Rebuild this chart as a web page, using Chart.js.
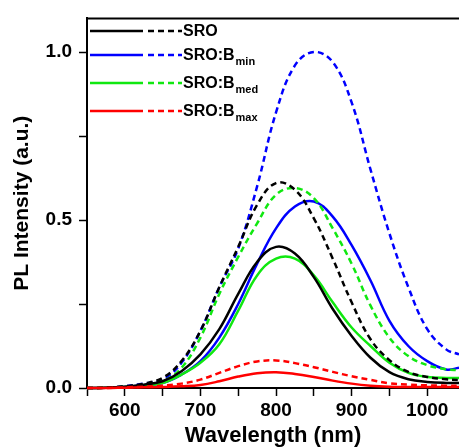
<!DOCTYPE HTML><html>
<head>
  <title>PL spectra</title>
  <meta name="viewport" content="width=device-width, initial-scale=1">
  <style>
  body {
    margin: 0;
    background: #fff;
  }
  canvas {
    display: block;
  }
  </style>
  <script src="https://cdn.jsdelivr.net/npm/chart.js"></script>
</head>
<body>
  <canvas id="pl-chart" width="459" height="448"></canvas>
<script>
  // wavelength grid (nm) shared by all curves
  var wavelength = [550, 575, 600, 625, 650, 675, 700, 725, 750, 775, 800, 825, 850, 875, 900, 925, 950, 975, 1000, 1025, 1042];

  // normalised PL intensity, solid = one measurement, dashed = the other
  var sroSolid   = [0, 0.001, 0.004, 0.010, 0.020, 0.050, 0.100, 0.175, 0.280, 0.375, 0.420, 0.400, 0.330, 0.235, 0.155, 0.090, 0.047, 0.026, 0.018, 0.015, 0.015];
  var sroDash    = [0, 0.001, 0.005, 0.013, 0.030, 0.080, 0.170, 0.300, 0.420, 0.545, 0.610, 0.590, 0.505, 0.385, 0.255, 0.145, 0.083, 0.048, 0.033, 0.026, 0.024];
  var bminSolid  = [0, 0.001, 0.003, 0.008, 0.015, 0.040, 0.080, 0.150, 0.250, 0.370, 0.475, 0.540, 0.555, 0.510, 0.425, 0.320, 0.200, 0.125, 0.080, 0.055, 0.060];
  var bminDash   = [0, 0.001, 0.005, 0.013, 0.025, 0.075, 0.170, 0.300, 0.415, 0.600, 0.820, 0.960, 1.000, 0.970, 0.850, 0.650, 0.460, 0.300, 0.175, 0.115, 0.100];
  var bmedSolid  = [0, 0.001, 0.003, 0.007, 0.015, 0.040, 0.075, 0.130, 0.230, 0.335, 0.385, 0.385, 0.335, 0.255, 0.180, 0.125, 0.075, 0.045, 0.033, 0.030, 0.030];
  var bmedDash   = [0, 0.001, 0.004, 0.010, 0.020, 0.060, 0.150, 0.280, 0.390, 0.490, 0.575, 0.595, 0.565, 0.475, 0.370, 0.245, 0.150, 0.095, 0.068, 0.056, 0.053];
  var bmaxSolid  = [0, 0, 0.001, 0.002, 0.003, 0.005, 0.009, 0.020, 0.034, 0.044, 0.047, 0.042, 0.033, 0.022, 0.013, 0.007, 0.004, 0.003, 0.003, 0.003, 0.003];
  var bmaxDash   = [0, 0, 0.002, 0.004, 0.007, 0.013, 0.025, 0.045, 0.065, 0.079, 0.082, 0.074, 0.062, 0.048, 0.035, 0.024, 0.014, 0.010, 0.008, 0.007, 0.007];

  // axis ticks
  var xTicks = [550, 600, 650, 700, 750, 800, 850, 900, 950, 1000];
  var yTicks = [0, 0.25, 0.5, 0.75, 1.0];

  var legendNames = ['SRO', 'SRO:B', 'SRO:B', 'SRO:B'];
  var legendSubs  = ['', 'min', 'med', 'max'];
  var colors      = ['#000000', '#0000ff', '#10e810', '#ff0000'];

  var fontFam = "'Liberation Sans', Arial, Helvetica, sans-serif";

  function pts(ys) {
    return wavelength.map(function (x, i) { return {x: x, y: ys[i]}; });
  }
  function line(ys, color, dashed) {
    return {
      data: pts(ys),
      borderColor: color,
      backgroundColor: color,
      borderWidth: 2.5,
      borderDash: dashed ? [6, 4] : [],
      pointRadius: 0,
      tension: 0.4,
      fill: false,
      clip: false
    };
  }

  var datasets = [
    line(bmaxSolid, colors[3], false),
    line(bmaxDash, colors[3], true),
    line(sroSolid, colors[0], false),
    line(sroDash, colors[0], true),
    line(bmedSolid, colors[2], false),
    line(bmedDash, colors[2], true),
    line(bminSolid, colors[1], false),
    line(bminDash, colors[1], true)
  ];

  // top frame line + two-sample legend with subscripts
  var framePlugin = {
    id: 'frame',
    afterDraw: function (chart) {
      var ctx = chart.ctx, a = chart.chartArea;
      ctx.save();
      ctx.strokeStyle = '#000';
      ctx.lineWidth = 2;
      ctx.beginPath();
      ctx.moveTo(a.left, a.top);
      ctx.lineTo(a.right, a.top);
      ctx.stroke();

      var rowY = [31, 55, 83, 111];
      for (var i = 0; i < legendNames.length; i++) {
        var y = rowY[i];
        ctx.strokeStyle = colors[i];
        ctx.lineWidth = 2.5;
        ctx.setLineDash([]);
        ctx.beginPath();
        ctx.moveTo(90, y);
        ctx.lineTo(143, y);
        ctx.stroke();
        ctx.setLineDash([6, 4]);
        ctx.beginPath();
        ctx.moveTo(148, y);
        ctx.lineTo(182, y);
        ctx.stroke();
        ctx.setLineDash([]);

        ctx.fillStyle = '#000';
        ctx.textBaseline = 'middle';
        ctx.font = 'bold 16px ' + fontFam;
        ctx.fillText(legendNames[i], 183, y + 1);
        if (legendSubs[i]) {
          var w = ctx.measureText(legendNames[i]).width;
          ctx.font = 'bold 11px ' + fontFam;
          ctx.fillText(legendSubs[i], 184 + w, y + 7);
        }
      }
      ctx.restore();
    }
  };

  var config = {
    type: 'line',
    data: {datasets: datasets},
    options: {
      responsive: false,
      animation: false,
      layout: {padding: {top: 15, left: 0, right: 0, bottom: 0}},
      plugins: {
        legend: {display: false},
        tooltip: {enabled: false}
      },
      scales: {
        x: {
          type: 'linear',
          min: 550,
          max: 1042,
          afterBuildTicks: function (s) {
            s.ticks = xTicks.map(function (v) { return {value: v}; });
          },
          afterFit: function (s) { s.height = 60; },
          ticks: {
            autoSkip: false,
            maxRotation: 0,
            padding: 3,
            color: '#000',
            font: {family: fontFam, size: 19, weight: 'bold'},
            callback: function (v) { return v % 100 === 0 ? String(v) : ''; }
          },
          grid: {drawOnChartArea: false, tickLength: 8, tickColor: '#000', tickWidth: 1.5},
          border: {color: '#000', width: 2},
          title: {
            display: true,
            text: 'Wavelength (nm)',
            color: '#000',
            font: {family: fontFam, size: 22, weight: 'bold', lineHeight: 1},
            padding: {top: 0, bottom: 1}
          }
        },
        y: {
          min: 0,
          max: 1.1,
          afterBuildTicks: function (s) {
            s.ticks = yTicks.map(function (v) { return {value: v}; });
          },
          afterFit: function (s) { s.width = 87; },
          ticks: {
            autoSkip: false,
            padding: 7,
            color: '#000',
            font: {family: fontFam, size: 19, weight: 'bold'},
            callback: function (v) {
              return (Math.abs(v * 2 - Math.round(v * 2)) < 1e-6) ? v.toFixed(1) : '';
            }
          },
          grid: {drawOnChartArea: false, tickLength: 8, tickColor: '#000', tickWidth: 1.5},
          border: {color: '#000', width: 2},
          title: {
            display: true,
            text: 'PL Intensity (a.u.)',
            color: '#000',
            font: {family: fontFam, size: 21, weight: 'bold', lineHeight: 1},
            padding: {top: 12, bottom: 0}
          }
        }
      }
    },
    plugins: [framePlugin]
  };

  var myChart = new Chart(document.getElementById('pl-chart'), config);
</script>
</body>
</html>
